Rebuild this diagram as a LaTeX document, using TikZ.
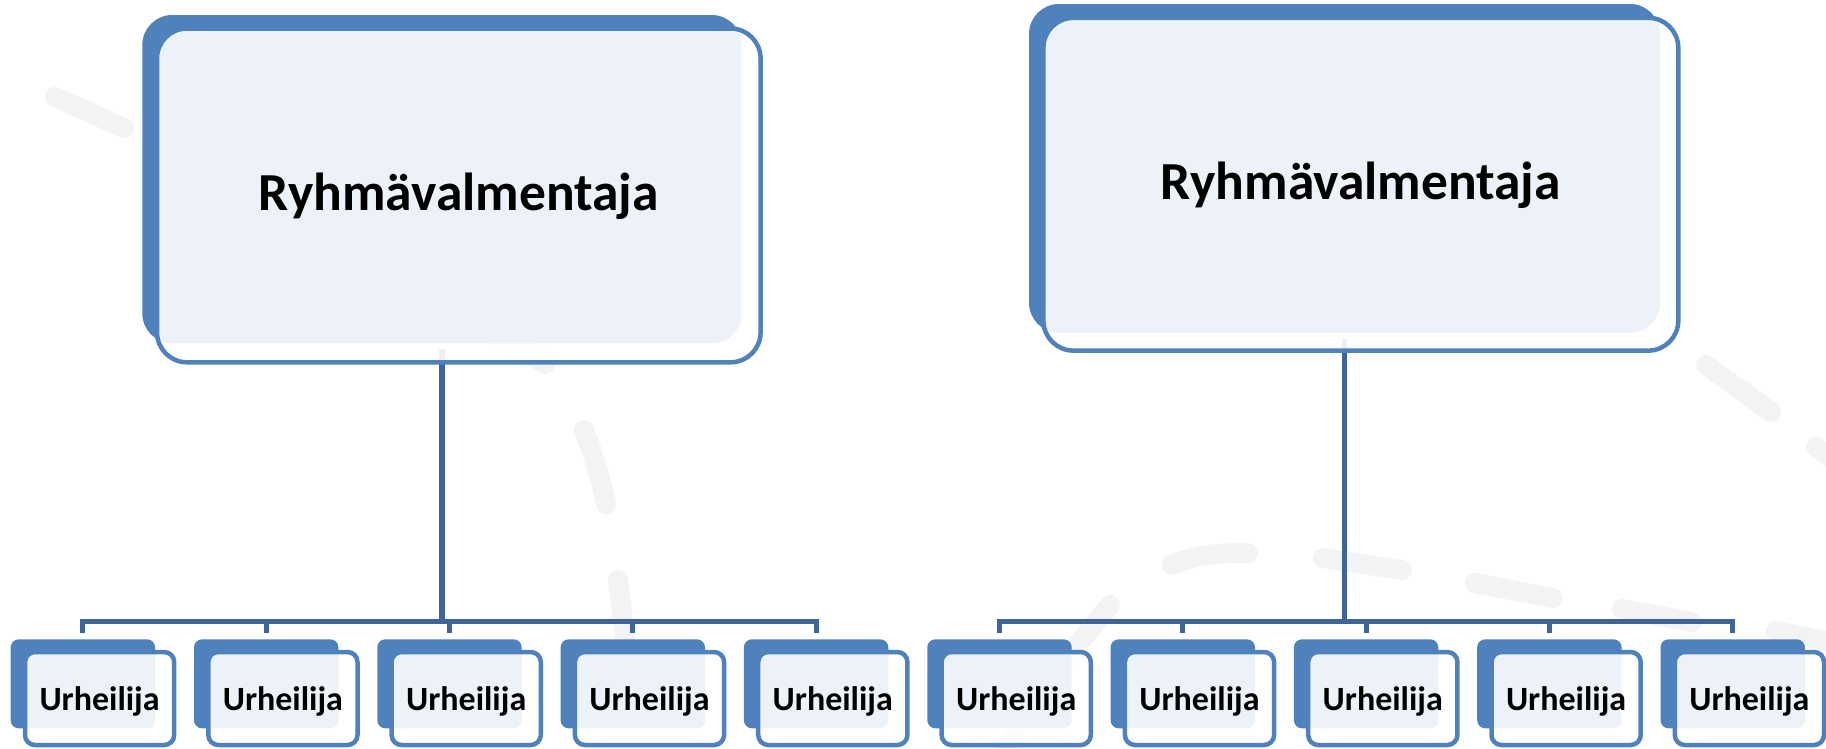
\documentclass[tikz,border=0pt]{standalone}
\usepackage{fontspec}
\setmainfont{Carlito}
\pgfdeclarelayer{bg}
\pgfsetlayers{bg,main}
\definecolor{acc}{HTML}{4F81BD}
\definecolor{connc}{HTML}{3E6597}
\definecolor{dashc}{HTML}{F2F3F5}
\tikzset{
  backbox/.style={fill=acc, draw=none, inner sep=0pt, outer sep=0pt},
  frontbox/.style={draw=acc, line width=4.5pt, fill=white, fill opacity=0.9, text opacity=1, inner sep=0pt, outer sep=0pt, align=center},
  bigback/.style={backbox, rounded corners=30pt},
  bigfront/.style={frontbox, rounded corners=30pt, font=\fontsize{53.5}{60}\selectfont\bfseries, text height=40pt, text depth=9pt},
  smallback/.style={backbox, rounded corners=8pt, minimum width=144.4pt, minimum height=89pt},
  smallfront/.style={frontbox, rounded corners=10pt, minimum width=149.2pt, minimum height=93pt, font=\fontsize{34}{40}\selectfont\bfseries, text height=28pt, text depth=5pt},
  connline/.style={draw=connc, line width=5pt},
  trunkline/.style={draw=connc, line width=5.6pt},
  bgdash/.style={draw=dashc, line width=20pt, line cap=round}
}
\begin{document}
\begin{tikzpicture}[x=1pt,y=-1pt]
\useasboundingbox (0,0) rectangle (1826,748);
% big boxes
\node[bigback, minimum width=599.4pt, minimum height=328.3pt] (Lb) at (442,179.15) {};
\node[bigfront, minimum width=603.6pt, minimum height=333.8pt] (Lf) at (458.8,195.4) {Ryhmävalmentaja};
\node[bigback, minimum width=631pt, minimum height=328.7pt] (Rb) at (1344.5,168.35) {};
\node[bigfront, minimum width=634.9pt, minimum height=332.8pt] (Rf) at (1360.85,184.2) {Ryhmävalmentaja};
% small boxes
\foreach \i in {1,...,5}{
  \pgfmathsetmacro{\bl}{10.7+183.3*(\i-1)}
  \node[smallback] (L\i b) at (\bl+72.2,683.8) {};
  \node[smallfront] (L\i f) at (\bl+88.9,698.5) {Urheilija};
  \pgfmathsetmacro{\br}{927.3+183.3*(\i-1)}
  \node[smallback] (R\i b) at (\br+72.2,683.8) {};
  \node[smallfront] (R\i f) at (\br+88.9,698.5) {Urheilija};
}
\coordinate (Lbus) at (442,621.5);
\coordinate (Rbus) at (1344.5,621.5);
\begin{pgfonlayer}{bg}
  % faint background dashes
  \draw[bgdash] (55,97) -- (124,128);
  \draw[bgdash] (495,333) -- (545,364);
  \draw[bgdash] (584,430) .. controls (594,455) and (601,480) .. (606,504);
  \draw[bgdash] (618,580) -- (630,680);
  \draw[bgdash] (1706,365) -- (1771,412);
  \draw[bgdash] (1816,447) -- (1880,494);
  \draw[bgdash] (1110,605) -- (1058,668);
  \draw[bgdash] (1025,712) -- (995,770);
  \draw[bgdash] (1172,565) .. controls (1195,555) and (1215,553) .. (1248,553);
  \draw[bgdash] (1323,558) -- (1402,570);
  \draw[bgdash] (1475,583) -- (1553,598);
  \draw[bgdash] (1622,609) -- (1692,622);
  \draw[bgdash] (1776,631) -- (1850,646);
  % connectors
  \draw[trunkline] ([yshift=-6pt]Lb.south) -- (Lbus);
  \draw[connline] ([yshift=6pt]L1b.north) |- (Lbus) -| ([yshift=6pt]L5b.north);
  \draw[trunkline] ([yshift=-6pt]Rb.south) -- (Rbus);
  \draw[connline] ([yshift=6pt]R1b.north) |- (Rbus) -| ([yshift=6pt]R5b.north);
  \foreach \i in {2,3,4}{
    \draw[connline] ([yshift=6pt]L\i b.north) -- (L\i b.north |- Lbus);
    \draw[connline] ([yshift=6pt]R\i b.north) -- (R\i b.north |- Rbus);
  }
\end{pgfonlayer}
\end{tikzpicture}
\end{document}
